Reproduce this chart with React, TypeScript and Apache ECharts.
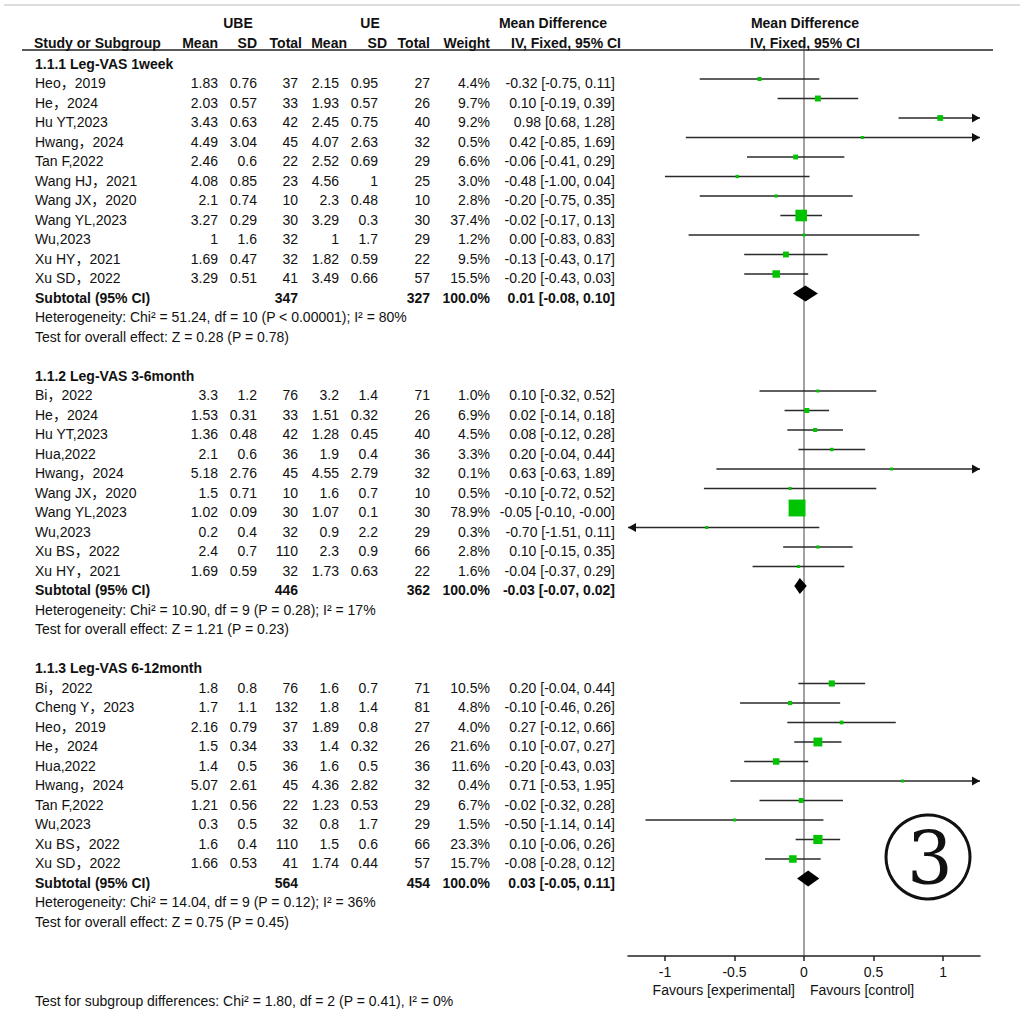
import React, { useEffect, useRef } from "react";
import * as echarts from "echarts";

// ---------- data ----------
type Study = [string, number, number, number, number, number, number, number, number, number, number];
// [name, UBE mean, UBE SD, UBE total, UE mean, UE SD, UE total, weight %, MD, lower, upper]

const sectionTitles = ["1.1.1 Leg-VAS 1week", "1.1.2 Leg-VAS 3-6month", "1.1.3 Leg-VAS 6-12month"];

const section1: Study[] = [
  ["Heo，2019", 1.83, 0.76, 37, 2.15, 0.95, 27, 4.4, -0.32, -0.75, 0.11],
  ["He，2024", 2.03, 0.57, 33, 1.93, 0.57, 26, 9.7, 0.1, -0.19, 0.39],
  ["Hu YT,2023", 3.43, 0.63, 42, 2.45, 0.75, 40, 9.2, 0.98, 0.68, 1.28],
  ["Hwang，2024", 4.49, 3.04, 45, 4.07, 2.63, 32, 0.5, 0.42, -0.85, 1.69],
  ["Tan F,2022", 2.46, 0.6, 22, 2.52, 0.69, 29, 6.6, -0.06, -0.41, 0.29],
  ["Wang HJ，2021", 4.08, 0.85, 23, 4.56, 1, 25, 3.0, -0.48, -1.0, 0.04],
  ["Wang JX，2020", 2.1, 0.74, 10, 2.3, 0.48, 10, 2.8, -0.2, -0.75, 0.35],
  ["Wang YL,2023", 3.27, 0.29, 30, 3.29, 0.3, 30, 37.4, -0.02, -0.17, 0.13],
  ["Wu,2023", 1, 1.6, 32, 1, 1.7, 29, 1.2, 0.0, -0.83, 0.83],
  ["Xu HY，2021", 1.69, 0.47, 32, 1.82, 0.59, 22, 9.5, -0.13, -0.43, 0.17],
  ["Xu SD，2022", 3.29, 0.51, 41, 3.49, 0.66, 57, 15.5, -0.2, -0.43, 0.03],
];

const section2: Study[] = [
  ["Bi，2022", 3.3, 1.2, 76, 3.2, 1.4, 71, 1.0, 0.1, -0.32, 0.52],
  ["He，2024", 1.53, 0.31, 33, 1.51, 0.32, 26, 6.9, 0.02, -0.14, 0.18],
  ["Hu YT,2023", 1.36, 0.48, 42, 1.28, 0.45, 40, 4.5, 0.08, -0.12, 0.28],
  ["Hua,2022", 2.1, 0.6, 36, 1.9, 0.4, 36, 3.3, 0.2, -0.04, 0.44],
  ["Hwang，2024", 5.18, 2.76, 45, 4.55, 2.79, 32, 0.1, 0.63, -0.63, 1.89],
  ["Wang JX，2020", 1.5, 0.71, 10, 1.6, 0.7, 10, 0.5, -0.1, -0.72, 0.52],
  ["Wang YL,2023", 1.02, 0.09, 30, 1.07, 0.1, 30, 78.9, -0.05, -0.1, -0],
  ["Wu,2023", 0.2, 0.4, 32, 0.9, 2.2, 29, 0.3, -0.7, -1.51, 0.11],
  ["Xu BS，2022", 2.4, 0.7, 110, 2.3, 0.9, 66, 2.8, 0.1, -0.15, 0.35],
  ["Xu HY，2021", 1.69, 0.59, 32, 1.73, 0.63, 22, 1.6, -0.04, -0.37, 0.29],
];

const section3: Study[] = [
  ["Bi，2022", 1.8, 0.8, 76, 1.6, 0.7, 71, 10.5, 0.2, -0.04, 0.44],
  ["Cheng Y，2023", 1.7, 1.1, 132, 1.8, 1.4, 81, 4.8, -0.1, -0.46, 0.26],
  ["Heo，2019", 2.16, 0.79, 37, 1.89, 0.8, 27, 4.0, 0.27, -0.12, 0.66],
  ["He，2024", 1.5, 0.34, 33, 1.4, 0.32, 26, 21.6, 0.1, -0.07, 0.27],
  ["Hua,2022", 1.4, 0.5, 36, 1.6, 0.5, 36, 11.6, -0.2, -0.43, 0.03],
  ["Hwang，2024", 5.07, 2.61, 45, 4.36, 2.82, 32, 0.4, 0.71, -0.53, 1.95],
  ["Tan F,2022", 1.21, 0.56, 22, 1.23, 0.53, 29, 6.7, -0.02, -0.32, 0.28],
  ["Wu,2023", 0.3, 0.5, 32, 0.8, 1.7, 29, 1.5, -0.5, -1.14, 0.14],
  ["Xu BS，2022", 1.6, 0.4, 110, 1.5, 0.6, 66, 23.3, 0.1, -0.06, 0.26],
  ["Xu SD，2022", 1.66, 0.53, 41, 1.74, 0.44, 57, 15.7, -0.08, -0.28, 0.12],
];

const sections = [section1, section2, section3];

const subtotalN = [
  [347, 327],
  [446, 362],
  [564, 454],
];
const subtotalMD = [
  [0.01, -0.08, 0.1],
  [-0.03, -0.07, 0.02],
  [0.03, -0.05, 0.11],
];
const heterogeneity = [
  "Heterogeneity: Chi² = 51.24, df = 10 (P < 0.00001); I² = 80%",
  "Heterogeneity: Chi² = 10.90, df = 9 (P = 0.28); I² = 17%",
  "Heterogeneity: Chi² = 14.04, df = 9 (P = 0.12); I² = 36%",
];
const overallEffect = [
  "Test for overall effect: Z = 0.28 (P = 0.78)",
  "Test for overall effect: Z = 1.21 (P = 0.23)",
  "Test for overall effect: Z = 0.75 (P = 0.45)",
];
const subgroupTest = "Test for subgroup differences: Chi² = 1.80, df = 2 (P = 0.41), I² = 0%";

const xTicks = [-1, -0.5, 0, 0.5, 1];
const favoursLeft = "Favours [experimental]";
const favoursRight = "Favours [control]";

// ---------- layout constants ----------
const FONT = "'Liberation Sans', Arial, 'Noto Sans CJK SC', sans-serif";
const XMIN = -1.266;
const XMAX = 1.266;
const STEP = 19.5;
const MARK0 = 59.5; // pixel y of row 0 for marks
const TEXT0 = 63.5; // pixel y of row 0 for texts
const GRID_TOP = 44;
const GRID_BOTTOM_PX = 956;
const GRID_LEFT = 628;
const GRID_RIGHT_PX = 980;
const YMIN = (GRID_TOP - MARK0) / STEP;
const YMAX = (GRID_BOTTOM_PX - MARK0) / STEP;

const fmt2 = (v: number) => (v < 0 || Object.is(v, -0) ? "-" : "") + Math.abs(v).toFixed(2);
const ciText = (m: number, l: number, h: number) => `${fmt2(m)} [${fmt2(l)}, ${fmt2(h)}]`;

function buildOption() {
  const g: any[] = [];
  const T = (text: string, x: number, y: number, align = "left", bold = false, size = 14) =>
    g.push({
      type: "text",
      x,
      y,
      silent: true,
      z: 10,
      style: {
        text,
        fill: "#111",
        fontSize: size,
        fontFamily: FONT,
        fontWeight: bold ? "bold" : "normal",
        textAlign: align,
        textVerticalAlign: "middle",
      },
    });

  // top rule + header rule
  g.push({ type: "line", silent: true, shape: { x1: 4, y1: 5, x2: 1020, y2: 5 }, style: { stroke: "#dcdcdc", lineWidth: 2 } });
  g.push({ type: "line", silent: true, shape: { x1: 22, y1: 50, x2: 993, y2: 50 }, style: { stroke: "#222", lineWidth: 1.5 } });

  // headers
  T("UBE", 238, 23, "center", true);
  T("UE", 370, 23, "center", true);
  T("Mean Difference", 553, 23, "center", true);
  T("Mean Difference", 805, 23, "center", true);
  T("Study or Subgroup", 34, 43, "left", true);
  T("Mean", 218, 43, "right", true);
  T("SD", 257, 43, "right", true);
  T("Total", 302, 43, "right", true);
  T("Mean", 347, 43, "right", true);
  T("SD", 387, 43, "right", true);
  T("Total", 430, 43, "right", true);
  T("Weight", 490, 43, "right", true);
  T("IV, Fixed, 95% CI", 566, 43, "center", true);
  T("IV, Fixed, 95% CI", 805, 43, "center", true);

  const marks: any[] = [];
  let r = 0;
  const ty = (i: number) => TEXT0 + STEP * i;
  sections.forEach((studies, s) => {
    T(sectionTitles[s], 35, ty(r), "left", true);
    studies.forEach((st, k) => {
      const row = r + 1 + k;
      const y = ty(row);
      T(st[0], 35, y);
      T(String(st[1]), 218, y, "right");
      T(String(st[2]), 257, y, "right");
      T(String(st[3]), 298, y, "right");
      T(String(st[4]), 339, y, "right");
      T(String(st[5]), 378, y, "right");
      T(String(st[6]), 430, y, "right");
      T(st[7].toFixed(1) + "%", 490, y, "right");
      T(ciText(st[8], st[9], st[10]), 615, y, "right");
      marks.push([st[8], st[9], st[10], row, st[7], 0]);
    });
    const sr = r + studies.length + 1;
    T("Subtotal (95% CI)", 35, ty(sr), "left", true);
    T(String(subtotalN[s][0]), 298, ty(sr), "right", true);
    T(String(subtotalN[s][1]), 430, ty(sr), "right", true);
    T("100.0%", 490, ty(sr), "right", true);
    T(ciText(subtotalMD[s][0], subtotalMD[s][1], subtotalMD[s][2]), 615, ty(sr), "right", true);
    marks.push([subtotalMD[s][0], subtotalMD[s][1], subtotalMD[s][2], sr, 100, 1]);
    T(heterogeneity[s], 35, ty(sr + 1));
    T(overallEffect[s], 35, ty(sr + 2));
    r = sr + 4;
  });

  T(subgroupTest, 35, 1001);
  T(favoursLeft, 795, 990, "right");
  T(favoursRight, 810, 990, "left");

  // circled 3
  g.push({ type: "circle", silent: true, shape: { cx: 928, cy: 857, r: 42 }, style: { fill: "none", stroke: "#111", lineWidth: 3 } });
  g.push({
    type: "text",
    x: 930,
    y: 859,
    silent: true,
    style: {
      text: "3",
      fill: "#111",
      fontSize: 72,
      fontFamily: "'DejaVu Serif', 'Liberation Serif', serif",
      textAlign: "center",
      textVerticalAlign: "middle",
    },
  });

  const renderItem = (params: any, api: any) => {
    const est = api.value(0);
    const lo = api.value(1);
    const hi = api.value(2);
    const row = api.value(3);
    const w = api.value(4);
    const kind = api.value(5);
    const cy = api.coord([0, row])[1];
    const xOf = (v: number) => api.coord([v, row])[0];
    if (kind === 1) {
      const h = 8;
      return {
        type: "polygon",
        shape: { points: [[xOf(lo), cy], [xOf(est), cy - h], [xOf(hi), cy], [xOf(est), cy + h]] },
        style: { fill: "#000" },
      };
    }
    const children: any[] = [];
    const a = Math.max(lo, XMIN);
    const b = Math.min(hi, XMAX);
    const px0 = xOf(a);
    const px1 = xOf(b);
    children.push({ type: "line", shape: { x1: px0, y1: cy, x2: px1, y2: cy }, style: { stroke: "#2a2a2a", lineWidth: 1.5 } });
    if (hi > XMAX) {
      children.push({ type: "polygon", shape: { points: [[px1, cy], [px1 - 8, cy - 4.5], [px1 - 8, cy + 4.5]] }, style: { fill: "#111" } });
    }
    if (lo < XMIN) {
      children.push({ type: "polygon", shape: { points: [[px0, cy], [px0 + 8, cy - 4.5], [px0 + 8, cy + 4.5]] }, style: { fill: "#111" } });
    }
    const sz = Math.max(3, 1.9 * Math.sqrt(w));
    const cx = xOf(est);
    children.push({ type: "rect", shape: { x: cx - sz / 2, y: cy - sz / 2, width: sz, height: sz }, style: { fill: "#00c400" } });
    return { type: "group", children };
  };

  return {
    animation: false,
    backgroundColor: "#fff",
    grid: { left: GRID_LEFT, width: GRID_RIGHT_PX - GRID_LEFT, top: GRID_TOP, height: GRID_BOTTOM_PX - GRID_TOP },
    xAxis: {
      type: "value",
      min: XMIN,
      max: XMAX,
      splitLine: { show: false },
      axisLine: { show: true, onZero: false, lineStyle: { color: "#222", width: 1.5 } },
      axisTick: { show: true, customValues: xTicks, length: 5, lineStyle: { color: "#222", width: 1.5 } },
      axisLabel: {
        show: true,
        customValues: xTicks,
        formatter: (v: number) => String(v),
        color: "#111",
        fontSize: 14,
        fontFamily: FONT,
        margin: 9,
      },
    },
    yAxis: { type: "value", inverse: true, min: YMIN, max: YMAX, show: false },
    graphic: g,
    series: [
      {
        type: "line",
        z: 1,
        silent: true,
        symbol: "none",
        data: [
          [0, YMIN],
          [0, YMAX],
        ],
        lineStyle: { color: "#444", width: 1 },
      },
      {
        type: "custom",
        z: 3,
        silent: true,
        clip: false,
        renderItem,
        encode: { x: [0, 1, 2], y: 3 },
        data: marks,
      },
    ],
  };
}

export default function App() {
  const ref = useRef<HTMLDivElement>(null);
  useEffect(() => {
    const chart = echarts.init(ref.current!, null, { renderer: "svg" });
    chart.setOption(buildOption() as any);
    return () => chart.dispose();
  }, []);
  return (
    <div
      ref={ref}
      style={{ position: "absolute", left: 0, top: 0, width: 1026, height: 1011, background: "#fff" }}
    />
  );
}
